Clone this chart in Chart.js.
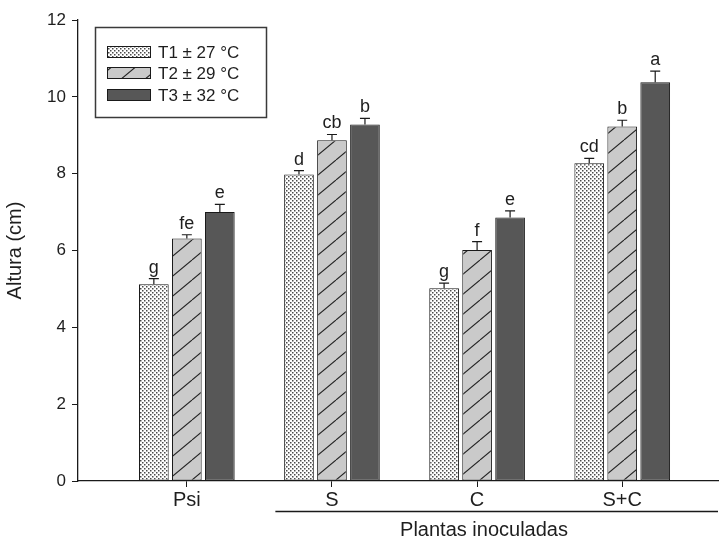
<!DOCTYPE html>
<html>
<head>
<meta charset="utf-8">
<script src="https://cdn.jsdelivr.net/npm/chart.js@4"></script>
<style>
  html, body { margin: 0; padding: 0; background: #fff; }
  #wrap { width: 721px; height: 540px; position: relative; }
</style>
</head>
<body>
<div id="wrap"><canvas id="grafico"></canvas></div>
<script>
// dados
const categorias = ["Psi", "S", "C", "S+C"];
const rotulos = ["T1 ± 27 °C", "T2 ± 29 °C", "T3 ± 32 °C"];
const alturaT1 = [5.12, 7.98, 5.02, 8.27];
const alturaT2 = [6.31, 8.87, 6.01, 9.23];
const alturaT3 = [7.00, 9.28, 6.86, 10.38];
const erroT1 = [0.15, 0.10, 0.13, 0.13];
const erroT2 = [0.10, 0.15, 0.22, 0.16];
const erroT3 = [0.20, 0.16, 0.17, 0.29];
const letrasT1 = ["g", "d", "g", "cd"];
const letrasT2 = ["fe", "cb", "f", "b"];
const letrasT3 = ["e", "b", "e", "a"];
const ticksY = [0, 2, 4, 6, 8, 10, 12];

const FONTE = "'Liberation Sans', Arial, sans-serif";
const COR_TEXTO = "#1e1e1e";

// --- padrões de preenchimento ---
function padraoPontilhado() {
    const c = document.createElement("canvas");
    c.width = 4; c.height = 4;
    const g = c.getContext("2d");
    g.fillStyle = "#ffffff";
    g.fillRect(0, 0, 4, 4);
    g.fillStyle = "#4a4a4a";
    g.fillRect(0, 0, 1.5, 1.5);
    g.fillRect(2, 2, 1.5, 1.5);
    return g.createPattern(c, "repeat");
}

function padraoHachurado() {
    const w = 24, h = 20;
    const c = document.createElement("canvas");
    c.width = w; c.height = h;
    const g = c.getContext("2d");
    g.fillStyle = "#cacaca";
    g.fillRect(0, 0, w, h);
    g.strokeStyle = "#222";
    g.lineWidth = 1.1;
    [-w, 0, w].forEach(dx => {
        g.beginPath();
        g.moveTo(dx, h);
        g.lineTo(dx + w, 0);
        g.stroke();
    });
    return g.createPattern(c, "repeat");
}

const ctx = document.getElementById("grafico").getContext("2d");
const preenchimentos = [padraoPontilhado(), padraoHachurado(), "#575757"];
const valores = [alturaT1, alturaT2, alturaT3];
const erros = [erroT1, erroT2, erroT3];
const letras = [letrasT1, letrasT2, letrasT3];

const datasets = valores.map((serie, d) => ({
    label: rotulos[d],
    data: serie.map((v, i) => ({ x: i, y: v })),
    backgroundColor: preenchimentos[d],
    borderColor: "#1a1a1a",
    borderWidth: 1,
    borderSkipped: false,
    categoryPercentage: 0.682,
    barPercentage: 0.9
}));

// --- barras de erro, letras, legenda e rótulo de grupo ---
const extras = {
    id: "extras",
    afterDatasetsDraw(chart) {
        const g = chart.ctx;
        const y = chart.scales.y;
        g.save();
        g.strokeStyle = "#1a1a1a";
        g.lineWidth = 1.2;
        g.fillStyle = COR_TEXTO;
        g.font = "18px " + FONTE;
        g.textAlign = "center";
        g.textBaseline = "alphabetic";
        chart.data.datasets.forEach((ds, d) => {
            const meta = chart.getDatasetMeta(d);
            meta.data.forEach((barra, i) => {
                const topo = y.getPixelForValue(valores[d][i]);
                const fim = y.getPixelForValue(valores[d][i] + erros[d][i]);
                g.beginPath();
                g.moveTo(barra.x, topo);
                g.lineTo(barra.x, fim);
                g.moveTo(barra.x - 5, fim);
                g.lineTo(barra.x + 5, fim);
                g.stroke();
                g.fillText(letras[d][i], barra.x, fim - 6);
            });
        });
        g.restore();
    },
    afterDraw(chart) {
        const g = chart.ctx;
        const x = chart.scales.x;
        const area = chart.chartArea;
        g.save();
        // legenda
        g.strokeStyle = "#3a3a3a";
        g.lineWidth = 1.5;
        g.strokeRect(95.5, 27.5, 171, 90);
        const linhasY = [52, 73, 95];
        g.font = "17px " + FONTE;
        g.textAlign = "left";
        g.textBaseline = "middle";
        chart.data.datasets.forEach((ds, d) => {
            g.fillStyle = ds.backgroundColor;
            g.fillRect(107, linhasY[d] - 5.5, 43, 11);
            g.lineWidth = 1;
            g.strokeStyle = "#1a1a1a";
            g.strokeRect(107.5, linhasY[d] - 5.5, 43, 11);
            g.fillStyle = COR_TEXTO;
            g.fillText(ds.label, 158, linhasY[d] + 1);
        });
        // linha e rótulo "Plantas inoculadas"
        g.strokeStyle = "#1a1a1a";
        g.lineWidth = 1.3;
        g.beginPath();
        g.moveTo(x.getPixelForValue(0.61), 511.5);
        g.lineTo(area.right, 511.5);
        g.stroke();
        g.font = "20px " + FONTE;
        g.textAlign = "center";
        g.fillStyle = COR_TEXTO;
        g.fillText("Plantas inoculadas", 484, 530);
        g.restore();
    }
};

new Chart(ctx, {
    type: "bar",
    data: { datasets },
    options: {
        responsive: true,
        maintainAspectRatio: false,
        animation: false,
        layout: { padding: { top: 20, right: 3, left: 0, bottom: 0 } },
        plugins: { legend: { display: false }, tooltip: { enabled: false } },
        scales: {
            x: {
                type: "linear",
                min: -0.75,
                max: 3.66,
                offset: false,
                grid: { display: true, drawOnChartArea: false, drawTicks: true, tickLength: 6, color: "#1a1a1a", offset: false },
                border: { display: true, color: "#1a1a1a", width: 1.3 },
                afterBuildTicks: (eixo) => { eixo.ticks = categorias.map((c, i) => ({ value: i })); },
                afterFit: (eixo) => { eixo.height = 59; },
                ticks: {
                    autoSkip: false,
                    maxRotation: 0,
                    padding: 1,
                    color: COR_TEXTO,
                    font: { family: FONTE, size: 20 },
                    callback: (v) => categorias[v] ?? ""
                }
            },
            y: {
                min: 0,
                max: 12,
                afterBuildTicks: (eixo) => { eixo.ticks = ticksY.map(v => ({ value: v })); },
                afterFit: (eixo) => { eixo.width = 78; },
                grid: { display: true, drawOnChartArea: false, drawTicks: true, tickLength: 6, color: "#1a1a1a" },
                border: { display: true, color: "#1a1a1a", width: 1.3 },
                ticks: {
                    padding: 6,
                    color: COR_TEXTO,
                    font: { family: FONTE, size: 17 }
                },
                title: {
                    display: true,
                    text: "Altura (cm)",
                    color: COR_TEXTO,
                    font: { family: FONTE, size: 20, lineHeight: 1.2 },
                    padding: { top: 3, bottom: 0 }
                }
            }
        }
    },
    plugins: [extras]
});
</script>
</body>
</html>
